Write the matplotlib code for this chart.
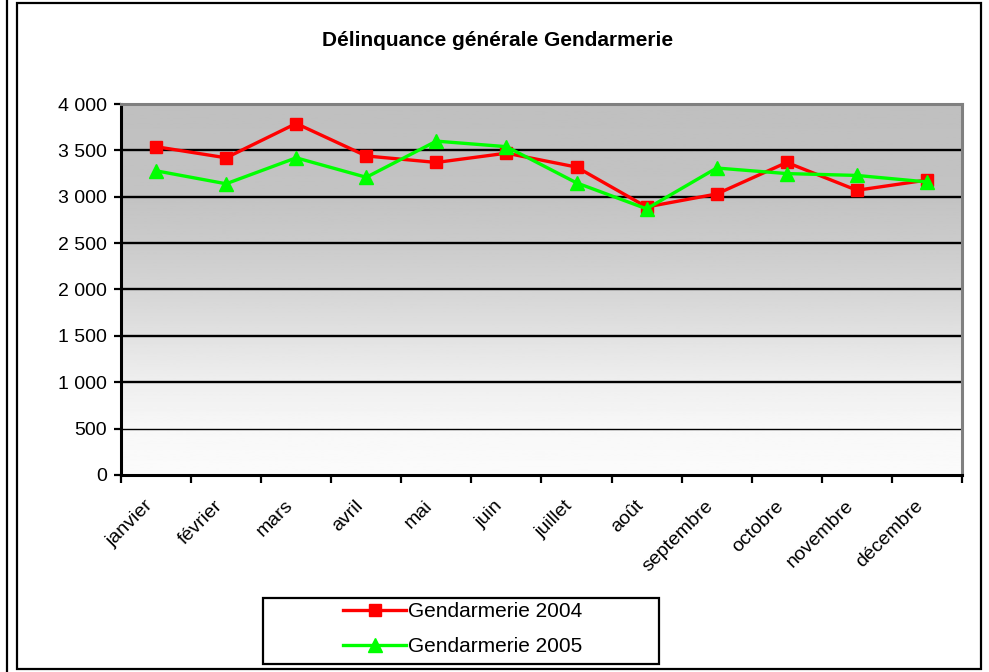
import matplotlib.pyplot as plt
import numpy as np
from matplotlib.patches import Rectangle
from matplotlib.lines import Line2D
from matplotlib.ticker import FuncFormatter
from matplotlib.transforms import ScaledTranslation

plt.rcParams['font.family'] = ['Liberation Sans', 'DejaVu Sans']

months = ['janvier', 'février', 'mars', 'avril', 'mai', 'juin', 'juillet',
          'août', 'septembre', 'octobre', 'novembre', 'décembre']
gend_2004 = [3540, 3420, 3790, 3440, 3370, 3470, 3320, 2890, 3030, 3370, 3070, 3180]
gend_2005 = [3280, 3140, 3420, 3210, 3600, 3540, 3150, 2870, 3310, 3250, 3230, 3160]
y_ticks = [0, 500, 1000, 1500, 2000, 2500, 3000, 3500, 4000]

fig = plt.figure(figsize=(9.89, 6.72), dpi=100)
ax = fig.add_axes([0.1223, 0.2932, 0.8504, 0.552])

x = np.arange(len(months))
ax.set_xlim(-0.5, len(months) - 0.5)
ax.set_ylim(0, 4000)

# gray gradient background: flat gray at the top, fading to almost white
yy = np.linspace(0, 4000, 256)
shade = np.interp(yy, [0, 500, 1000, 1500, 2000, 2500, 3000, 4000],
                  [0.985, 0.97, 0.935, 0.885, 0.835, 0.795, 0.765, 0.75])
ax.imshow(shade.reshape(-1, 1), cmap='gray', vmin=0, vmax=1, aspect='auto',
          origin='lower', extent=[-0.5, len(months) - 0.5, 0, 4000], zorder=0)

for v in y_ticks[1:-1]:
    ax.axhline(v, color='black', lw=1.0 if v == 500 else 1.7, zorder=1)

ax.plot(x, gend_2004, color='#ff0000', lw=2.4, marker='s', ms=8.5,
        label='Gendarmerie 2004', zorder=3)
ax.plot(x, gend_2005, color='#00ff00', lw=2.4, marker='^', ms=9.5,
        label='Gendarmerie 2005', zorder=3)

ax.set_yticks(y_ticks)
ax.yaxis.set_major_formatter(FuncFormatter(lambda v, p: f'{int(v):,}'.replace(',', ' ')))
ax.set_xticks(x)
ax.set_xticklabels(months, rotation=45, ha='right', rotation_mode='anchor', fontsize=14)
ax.tick_params(axis='x', length=0, pad=16)
shift = ScaledTranslation(-12 / 100, 0, fig.dpi_scale_trans)
for lbl in ax.get_xticklabels():
    lbl.set_transform(lbl.get_transform() + shift)
ax.set_xticks(np.arange(-0.5, len(months)), minor=True)
ax.tick_params(axis='x', which='minor', length=6, width=1.6, direction='out')
ax.tick_params(axis='y', length=5, width=1.6, labelsize=14, pad=5)

for side in ['left', 'bottom']:
    ax.spines[side].set_linewidth(2.2)
    ax.spines[side].set_color('black')
for side in ['top', 'right']:
    ax.spines[side].set_linewidth(2.2)
    ax.spines[side].set_color('#808080')

fig.text(0.503, 0.94, 'Délinquance générale Gendarmerie', ha='center', va='center',
         fontsize=15, fontweight='bold')

leg = fig.legend(loc='center', bbox_to_anchor=(0.468, 0.0640), frameon=False,
                 fontsize=15, handlelength=3.0, labelspacing=0.75, handletextpad=0.1)

# legend box, wider than its entries
fig.add_artist(Rectangle((263 / 989, 8 / 672), 396 / 989, 66 / 672, transform=fig.transFigure,
                         fill=False, edgecolor='black', lw=1.6))
# outer frames
fig.add_artist(Rectangle((17 / 989, 3 / 672), 964 / 989, 666 / 672, transform=fig.transFigure,
                         fill=False, edgecolor='black', lw=1.6))
fig.add_artist(Line2D([7 / 989, 7 / 989], [0, 1], transform=fig.transFigure,
                      color='black', lw=1.6))

fig.savefig('out.png', dpi=100)
